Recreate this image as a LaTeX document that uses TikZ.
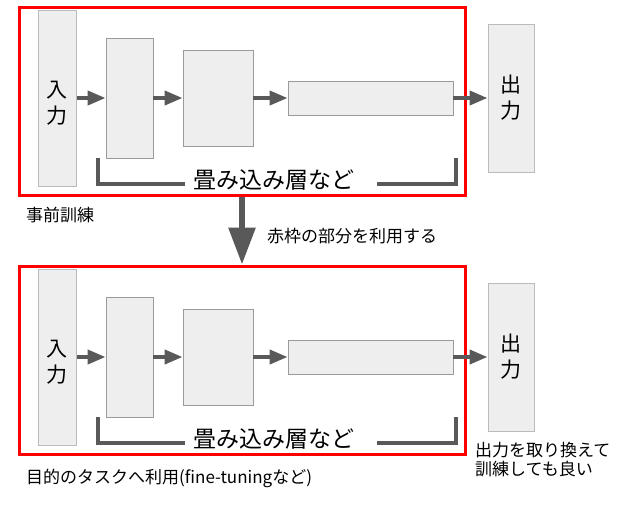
\documentclass[tikz,border=0pt]{standalone}
\usepackage{fontspec}
\setmainfont{Noto Sans CJK JP}
\usetikzlibrary{arrows.meta}
\definecolor{boxfill}{HTML}{EEEEEE}
\definecolor{boxline}{HTML}{9A9A9A}
\definecolor{outline}{HTML}{BBBBBB}
\definecolor{arrowgray}{HTML}{595959}
\tikzset{
  layer/.style={draw=boxline, fill=boxfill, line width=0.9pt, inner sep=0pt},
  iobox/.style={draw=outline, fill=boxfill, line width=1pt, inner sep=0pt, align=center,
    font=\fontsize{21}{26}\selectfont},
  redframe/.style={draw=red, line width=3pt, inner sep=0pt},
  flow/.style={draw=arrowgray, line width=4pt, -{Triangle[length=18pt,width=14pt]}},
  brace/.style={draw=arrowgray, line width=3.2pt},
  bigflow/.style={draw=arrowgray, line width=6pt, -{Triangle[length=37pt,width=26pt]}},
  label/.style={inner sep=0pt, font=\fontsize{17}{19}\selectfont},
  bracelabel/.style={inner sep=0pt, font=\fontsize{23}{26}\selectfont}
}
\begin{document}
\begin{tikzpicture}[x=1pt,y=-1pt]
\useasboundingbox (0,0) rectangle (631,507);
\fill[white] (0,0) rectangle (631,507);
\foreach \p/\dy in {t/0,b/259}{
  \begin{scope}[shift={(0,\dy)}]
    \node[redframe, minimum width=446pt, minimum height=188pt] (\p red) at (242,101) {};
    \node[iobox, minimum width=38pt, minimum height=176pt] (\p in) at (57,98)
      {\rule{0pt}{26pt}入\\力};
    \node[layer, minimum width=47pt, minimum height=120pt] (\p l1) at (129.5,98) {};
    \node[layer, minimum width=70pt, minimum height=96pt] (\p l2) at (218,98) {};
    \node[layer, minimum width=165pt, minimum height=34pt] (\p l3) at (370.5,98) {};
    \node[iobox, minimum width=46pt, minimum height=148pt] (\p out) at (511,98) {出\\力};
    \draw[flow] (\p in) -- (\p l1);
    \draw[flow] (\p l1) -- (\p l2);
    \draw[flow] (\p l2) -- (\p l3);
    \draw[flow] (\p l3) -- (\p out);
    \node[bracelabel] (\p brtext) at (274,180) {畳み込み層など};
    \coordinate (\p brL) at (98,158);
    \coordinate (\p brR) at (456,158);
    \draw[brace] (\p brL) |- ([xshift=-8pt,yshift=-4pt]\p brtext.west);
    \draw[brace] (\p brR) |- ([xshift=22pt,yshift=-4pt]\p brtext.east);
  \end{scope}
}
\draw[bigflow] (tred.south) -- (bred.north);
\node[label, anchor=west] (pre) at (26,215) {事前訓練};
\node[label, anchor=west] (use) at (267,236) {赤枠の部分を利用する};
\node[label, anchor=west] (ft) at (26,478) {目的のタスクへ利用(fine-tuningなど)};
\node[label, anchor=north west, align=left] (note) at (475,442) {出力を取り換えて\\訓練しても良い};
\end{tikzpicture}
\end{document}
